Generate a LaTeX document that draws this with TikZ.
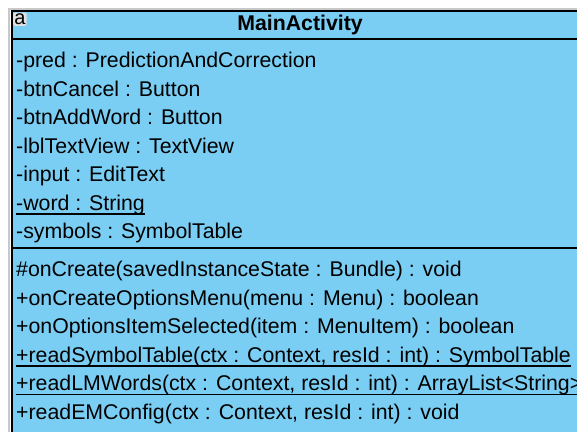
\documentclass[tikz,border=0pt]{standalone}
\usepackage{fontspec}
\setmainfont{Liberation Sans}
\definecolor{umlfill}{RGB}{122,206,244}
\definecolor{shadowgrey}{RGB}{200,200,200}
\definecolor{tagbg}{RGB}{225,225,225}
\begin{document}
\begin{tikzpicture}[x=1pt,y=1pt,
  member/.style={anchor=base west,inner sep=0pt,font=\fontsize{21.3}{24}\selectfont},
  titletext/.style={inner sep=0pt,font=\fontsize{21.3}{24}\selectfont\bfseries},
  sepline/.style={line width=2pt,black},
  uline/.style={line width=1.3pt,black}]
\useasboundingbox (0,0) rectangle (577,-431);
\begin{scope}
\clip (0,0) rectangle (577,-431);
% shadow
\draw[shadowgrey,line width=2pt] (9,-440) -- (9,-9) -- (600,-9);
% class box
\draw[fill=umlfill,line width=2pt] (11.5,-11) rectangle (589,-445);
\draw[sepline] (11.5,-39) -- (589,-39);
\draw[sepline] (11.5,-248) -- (589,-248);
% tag
\node[fill=tagbg,rounded corners=2pt,inner xsep=1.2pt,inner ysep=1.2pt,anchor=base west,font=\fontsize{20}{21}\selectfont] (tag) at (13,-24.5) {a};
% title
\node[titletext] (title) at (300,-24.5) {MainActivity};
% attributes
\node[member] (a1) at (16,-67.5) {-pred : PredictionAndCorrection};
\node[member] (a2) at (16,-96) {-btnCancel : Button};
\node[member] (a3) at (16,-124.5) {-btnAddWord : Button};
\node[member] (a4) at (16,-153) {-lblTextView : TextView};
\node[member] (a5) at (16,-181.5) {-input : EditText};
\node[member] (a6) at (16,-210) {-word : String};
\node[member] (a7) at (16,-238.5) {-symbols : SymbolTable};
% methods
\node[member] (m1) at (16,-276.5) {\#onCreate(savedInstanceState : Bundle) : void};
\node[member] (m2) at (16,-305) {+onCreateOptionsMenu(menu : Menu) : boolean};
\node[member] (m3) at (16,-333.5) {+onOptionsItemSelected(item : MenuItem) : boolean};
\node[member] (m4) at (16,-362) {+readSymbolTable(ctx : Context, resId : int) : SymbolTable};
\node[member] (m5) at (16,-390.5) {+readLMWords(ctx : Context, resId : int) : ArrayList<String>};
\node[member] (m6) at (16,-419) {+readEMConfig(ctx : Context, resId : int) : void};
% underlines (static members)
\draw[uline] ([yshift=-4pt]a6.base west) -- ([yshift=-4pt]a6.base east);
\draw[uline] ([yshift=-4pt]m4.base west) -- ([yshift=-4pt]m4.base east);
\draw[uline] ([yshift=-4pt]m5.base west) -- ([yshift=-4pt]m5.base east);
\end{scope}
\end{tikzpicture}
\end{document}
